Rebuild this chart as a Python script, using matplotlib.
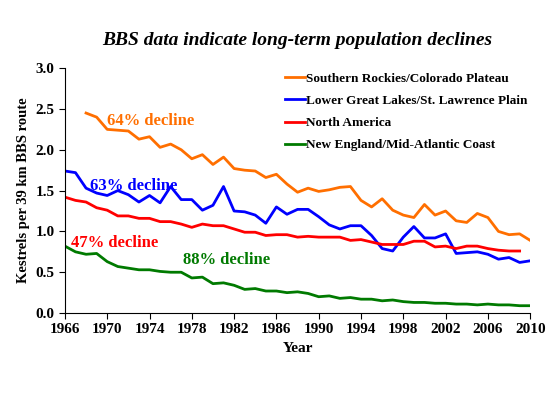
import numpy as np
import matplotlib
matplotlib.use('Agg')
import matplotlib.pyplot as plt

plt.rcParams['font.family'] = 'Liberation Serif'
plt.rcParams['font.weight'] = 'bold'
plt.rcParams['axes.labelweight'] = 'bold'

# Datos
anios_sr = list(range(1968, 2011))
rockies = [2.45, 2.40, 2.25, 2.24, 2.23, 2.13, 2.16, 2.03, 2.07, 2.00, 1.89, 1.94, 1.82, 1.91,
           1.77, 1.75, 1.74, 1.66, 1.70, 1.58, 1.48, 1.53, 1.49, 1.51, 1.54, 1.55, 1.38, 1.30,
           1.40, 1.26, 1.20, 1.17, 1.33, 1.20, 1.25, 1.13, 1.11, 1.22, 1.17, 1.00, 0.96, 0.97, 0.89]
anios_gl = list(range(1966, 2011))
great_lakes = [1.74, 1.72, 1.53, 1.47, 1.44, 1.50, 1.45, 1.36, 1.44, 1.35, 1.55, 1.39, 1.39, 1.26,
               1.32, 1.55, 1.25, 1.24, 1.20, 1.10, 1.30, 1.21, 1.27, 1.27, 1.18, 1.08, 1.03, 1.07,
               1.07, 0.95, 0.79, 0.76, 0.93, 1.06, 0.92, 0.92, 0.97, 0.73, 0.74, 0.75, 0.72, 0.66,
               0.68, 0.62, 0.64]
anios_na = list(range(1966, 2010))
north_america = [1.42, 1.38, 1.36, 1.29, 1.26, 1.19, 1.19, 1.16, 1.16, 1.12, 1.12, 1.09, 1.05, 1.09,
                 1.07, 1.07, 1.03, 0.99, 0.99, 0.95, 0.96, 0.96, 0.93, 0.94, 0.93, 0.93, 0.93, 0.89,
                 0.90, 0.87, 0.84, 0.84, 0.84, 0.88, 0.88, 0.81, 0.82, 0.79, 0.82, 0.82, 0.79, 0.77,
                 0.76, 0.76]
anios_ne = list(range(1966, 2011))
new_england = [0.82, 0.75, 0.72, 0.73, 0.63, 0.57, 0.55, 0.53, 0.53, 0.51, 0.50, 0.50, 0.43, 0.44,
               0.36, 0.37, 0.34, 0.29, 0.30, 0.27, 0.27, 0.25, 0.26, 0.24, 0.20, 0.21, 0.18, 0.19,
               0.17, 0.17, 0.15, 0.16, 0.14, 0.13, 0.13, 0.12, 0.12, 0.11, 0.11, 0.10, 0.11, 0.10,
               0.10, 0.09, 0.09]

fig = plt.figure(figsize=(5.5, 4.13), dpi=100)
ax = fig.add_axes([0.118, 0.242, 0.846, 0.593])

ax.plot(anios_sr, rockies, color='#ff6f00', lw=2, label='Southern Rockies/Colorado Plateau')
ax.plot(anios_gl, great_lakes, color='#0000ff', lw=2, label='Lower Great Lakes/St. Lawrence Plain')
ax.plot(anios_na, north_america, color='#ff0000', lw=2, label='North America')
ax.plot(anios_ne, new_england, color='#007a00', lw=2, label='New England/Mid-Atlantic Coast')

ax.text(1970.0, 2.30, '64% decline', color='#ff6f00', fontsize=12)
ax.text(1968.4, 1.51, '63% decline', color='#0000ff', fontsize=12)
ax.text(1966.6, 0.81, '47% decline', color='#ff0000', fontsize=12)
ax.text(1977.2, 0.60, '88% decline', color='#007a00', fontsize=12)

ax.set_xlim(1966, 2010)
ax.set_ylim(0, 3.0)
ax.set_xticks(range(1966, 2011, 4))
ax.set_yticks(np.arange(0, 3.01, 0.5))
ax.yaxis.set_major_formatter(matplotlib.ticker.FormatStrFormatter('%.1f'))
ax.tick_params(labelsize=11, direction='out', length=4)
for s in ['top', 'right']:
    ax.spines[s].set_visible(False)
ax.set_xlabel('Year', fontsize=11)
ax.set_ylabel('Kestrels per 39 km BBS route', fontsize=10.5)
ax.legend(loc='upper right', bbox_to_anchor=(1.02, 1.03), frameon=False, fontsize=9.5,
          handlelength=1.5, handletextpad=0.1, labelspacing=0.75)
fig.text(0.54, 0.89, 'BBS data indicate long-term population declines', ha='center',
         fontsize=14, style='italic')

fig.savefig('out.png')
